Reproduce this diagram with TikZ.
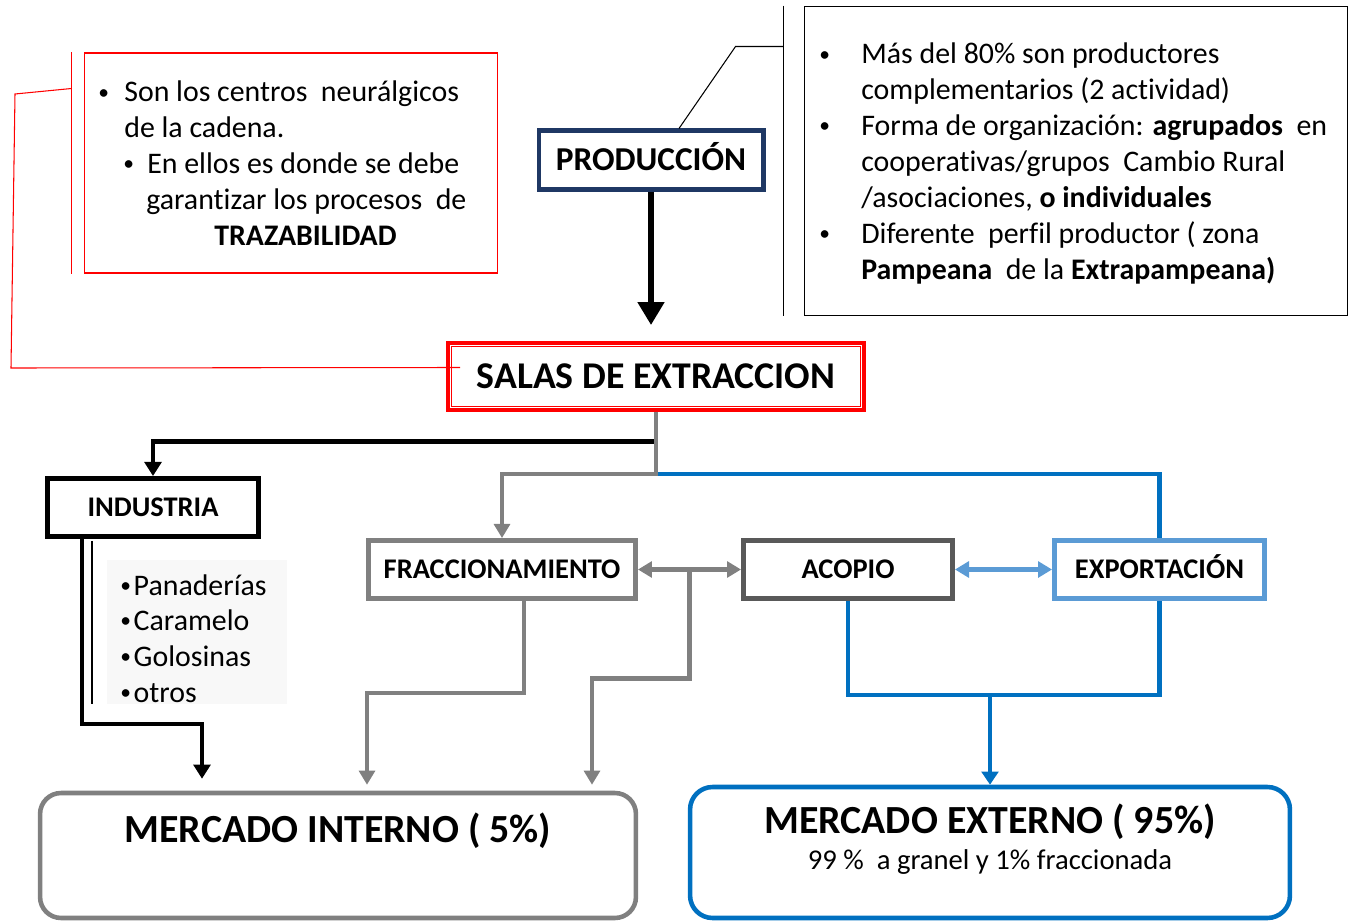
\documentclass[tikz,border=0pt]{standalone}
\usepackage{fontspec}
\setmainfont{Carlito}[Ligatures=NoCommon]
\usepackage{graphicx}
\usepackage{tikz}
\usetikzlibrary{arrows.meta, calc, positioning}
\definecolor{chain-red}{RGB}{255,0,0}
\definecolor{chain-navy}{RGB}{31,56,100}
\definecolor{chain-blue}{RGB}{0,112,192}
\definecolor{chain-lightblue}{RGB}{91,155,213}
\definecolor{chain-grey}{RGB}{128,128,128}
\definecolor{chain-darkgrey}{RGB}{89,89,89}
\definecolor{chain-listbg}{RGB}{248,248,248}
\newcommand{\itemdot}{\raisebox{0.1em}{\scalebox{0.72}{\textbullet}}}
\tikzset{%
    box/.style={%
        rectangle,
        draw=black,
        fill=white,
        line width=2.8pt,
        inner sep=0pt,
        minimum height=1.16cm,
        text height=10.4pt,
        text depth=0pt,
        font=\fontsize{16.2}{19}\selectfont\bfseries,
        text centered,
    },
    prodbox/.style={%
        box,
        draw=chain-navy,
        line width=2.3pt,
        minimum width=4.5cm,
        minimum height=1.18cm,
        text height=12.2pt,
        font=\fontsize{19}{22}\selectfont\bfseries,
    },
    salabox/.style={%
        box,
        draw=chain-red,
        line width=2.2pt,
        minimum width=8.32cm,
        minimum height=1.34cm,
        text height=13.8pt,
        font=\fontsize{21.5}{25}\selectfont\bfseries,
    },
    market/.style={%
        rectangle,
        rounded corners=0.42cm,
        draw=chain-grey,
        line width=2.6pt,
        minimum width=11.92cm,
        minimum height=2.5cm,
    },
    markettitle/.style={%
        inner sep=0pt,
        font=\fontsize{22.7}{26}\selectfont\bfseries,
    },
    callout/.style={%
        rectangle,
        draw=black,
        line width=0.6pt,
        inner sep=0pt,
    },
    calltext/.style={%
        inner sep=0pt,
        anchor=base west,
        font=\fontsize{17}{20.4}\selectfont,
    },
    leader/.style={%
        line width=0.6pt,
    },
    blackedge/.style={%
        draw=black,
        line width=2.8pt,
        -{Triangle[width=9.5pt,length=8pt]},
    },
    greyedge/.style={%
        draw=chain-grey,
        line width=2.5pt,
        -{Triangle[width=9pt,length=8pt]},
    },
    blueedge/.style={%
        draw=chain-blue,
        line width=2.5pt,
    },
    twoway/.style={%
        line width=2.5pt,
        {Triangle[width=9pt,length=8pt]}-{Triangle[width=9pt,length=8pt]},
    },
}

\begin{document}
\begin{tikzpicture}[x=0.02cm, y=-0.02cm]
  \useasboundingbox (0,0) rectangle (1352,922);

  % notes
  \node [callout, draw=chain-red] [minimum width=8.28cm, minimum height=4.4cm] at (291,163) (neural) {};
  \node [calltext] at (98,102) (neural_txt) {\begin{tabular}[t]{@{}l@{}}
    \makebox[0.52cm][l]{\itemdot}Son los centros\ \ neurálgicos\\
    \hspace*{0.52cm}de la cadena.\\
    \hspace*{0.5cm}\makebox[0.48cm][l]{\itemdot}En ellos es donde se debe\\
    \hspace*{0.96cm}garantizar los procesos\ \ de\\
    \hspace*{2.32cm}\textbf{TRAZABILIDAD}
  \end{tabular}};

  \node [callout] [minimum width=10.88cm, minimum height=6.2cm] at (1076,161) (profile) {};
  \node [calltext] at (819,64) (profile_txt) {\begin{tabular}[t]{@{}l@{}}
    \makebox[0.84cm][l]{\itemdot}Más del 80\% son productores\\
    \hspace*{0.84cm}complementarios (2 actividad)\\
    \makebox[0.84cm][l]{\itemdot}Forma de organización: \textbf{agrupados}\ \ en\\
    \hspace*{0.84cm}cooperativas/grupos\ \ Cambio Rural\\
    \hspace*{0.84cm}/asociaciones, \textbf{o individuales}\\
    \makebox[0.84cm][l]{\itemdot}Diferente\ \ perfil productor ( zona\\
    \hspace*{0.84cm}\textbf{Pampeana}\ \ de la \textbf{Extrapampeana)}
  \end{tabular}};

  % chain
  \node [prodbox] at (651,160) (prod) {PRODUCCIÓN};
  \node [salabox] at (656,376.5) (salas) {SALAS DE EXTRACCION};
  \draw [chain-red, line width=0.5pt] ($(salas.north west)+(5,5)$) rectangle ($(salas.south east)+(-5,-5)$);

  \node [box, minimum width=4.22cm] at (153,507.5) (ind) {INDUSTRIA};
  \node [box, draw=chain-grey, minimum width=5.34cm] at (502,569.5) (fracc) {FRACCIONAMIENTO};
  \node [box, draw=chain-darkgrey, minimum width=4.18cm] at (848,569.5) (acopio) {ACOPIO};
  \node [box, draw=chain-lightblue, minimum width=4.2cm] at (1159.5,569.5) (export) {EXPORTACIÓN};

  \node [rectangle, fill=chain-listbg, inner sep=0pt, minimum width=3.6cm, minimum height=2.88cm] at (197,632) (uses_bg) {};
  \node [calltext] at (120,595) (uses) {\begin{tabular}[t]{@{}l@{}}
    \itemdot\hspace{1.5pt}Panaderías\\
    \itemdot\hspace{1.5pt}Caramelo\\
    \itemdot\hspace{1.5pt}Golosinas\\
    \itemdot\hspace{1.5pt}otros
  \end{tabular}};

  \node [market] at (338,855.5) (intern) {};
  \node [markettitle] at (338,831) (intern_title) {MERCADO INTERNO ( 5\%)};
  \node [market, draw=chain-blue, minimum width=12cm, minimum height=2.62cm, rounded corners=0.45cm] at (990,852.5) (extern) {};
  \node [markettitle] at (990,822) (extern_title) {MERCADO EXTERNO ( 95\%)};
  \node [font=\fontsize{16.3}{19}\selectfont] at (990,862) (extern_sub) {99 \%\ \ a granel y 1\% fraccionada};

  % leaders
  \draw [leader, draw=chain-red] ($(neural.north west)+(-12,0)$) -- ($(neural.south west)+(-12,0)$);
  \coordinate (neural_hook) at ($(neural.north west)+(-12,36)$);
  \draw [leader, draw=chain-red] (neural_hook) -- (15,94) -- (11,368) -- ($(salas.west)+(14,-9)$);
  \draw [leader] ($(profile.north west)+(-20,0)$) -- ($(profile.south west)+(-20,0)$);
  \draw [leader] ($(profile.north west)+(-20,41)$) -- ++(-48,0) -- ($(prod.north)+(28,0)$);

  % edges
  \draw [line width=3.4pt, -{Triangle[width=14.5pt,length=13pt]}] (prod.south) -- ($(prod.south |- salas.north)+(0,-16)$);

  \draw [blueedge] ($(salas.south)+(0,62)$) -| (export.north);
  \draw [blackedge] ($(salas.south)+(-1,30)$) -| (ind.north);
  \draw [greyedge] (salas.south) -- ++(0,62) -| (fracc.north);

  \coordinate (gmid) at ($(fracc.east)!0.5!(acopio.west)$);
  \draw [twoway, draw=chain-grey] (fracc.east) -- (acopio.west);
  \draw [greyedge] (gmid) -- ++(0,109) -| ($(intern.north)+(254,-6)$);
  \draw [greyedge] ($(fracc.south)+(22,0)$) -- ++(0,92) -| ($(intern.north)+(29,-6)$);
  \draw [blackedge] ($(ind.south)+(-71,0)$) -- ++(0,185) -| ($(intern.north)+(-136,-12)$);
  \draw [line width=0.8pt] ($(ind.south)+(-61,2)$) -- ++(0,163);

  \draw [twoway, draw=chain-lightblue] (acopio.east) -- (export.west);
  \coordinate (bjoin) at ($(acopio.south)+(0,94)$);
  \draw [blueedge] (acopio.south) -- (bjoin) -| (export.south);
  \draw [blueedge, -{Triangle[width=9.5pt,length=7.5pt]}] (bjoin -| extern.north) -- (extern.north);
\end{tikzpicture}
\end{document}
